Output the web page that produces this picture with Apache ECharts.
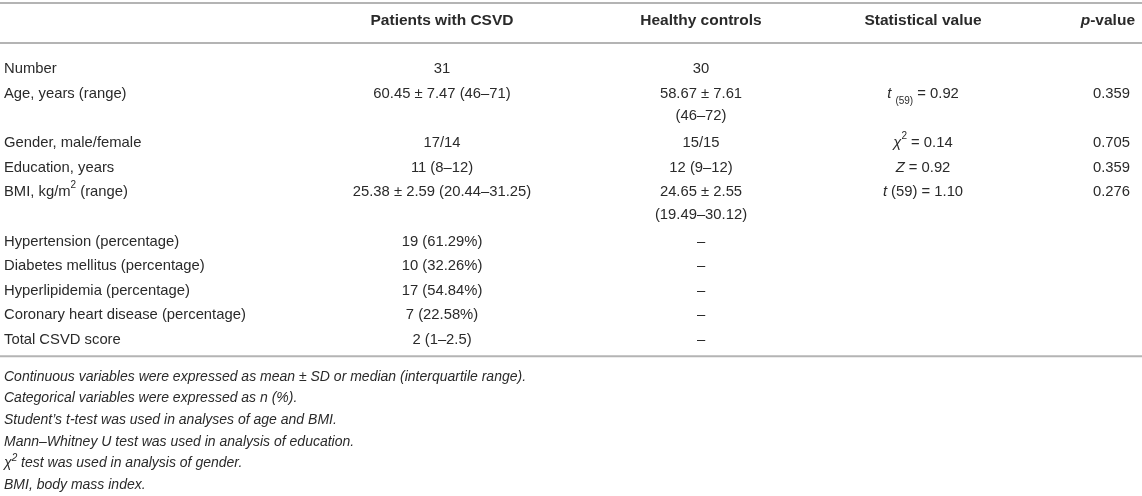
<!DOCTYPE html>
<html lang="en">
<head>
    <meta charset="utf-8">
    <title>CSVD demographics table</title>
    <script src="https://cdn.jsdelivr.net/npm/echarts@6/dist/echarts.min.js"></script>
    <style>
        html, body { margin: 0; padding: 0; background: #fff; }
        #tableChart { width: 1142px; height: 496px; }
    </style>
</head>
<body>
    <div id="tableChart"></div>
    <script>
        // table content
        var headers = ['', 'Patients with CSVD', 'Healthy controls', 'Statistical value', '{bi|p}-value'];
        var rowLabels = [
            'Number', 'Age, years (range)', 'Gender, male/female', 'Education, years',
            'BMI, kg/m{sup|2} (range)', 'Hypertension (percentage)', 'Diabetes mellitus (percentage)',
            'Hyperlipidemia (percentage)', 'Coronary heart disease (percentage)', 'Total CSVD score'
        ];
        var csvdValues = [
            '31', '60.45 ± 7.47 (46–71)', '17/14', '11 (8–12)', '25.38 ± 2.59 (20.44–31.25)',
            '19 (61.29%)', '10 (32.26%)', '17 (54.84%)', '7 (22.58%)', '2 (1–2.5)'
        ];
        var controlValues = [
            '30', '58.67 ± 7.61\n(46–72)', '15/15', '12 (9–12)', '24.65 ± 2.55\n(19.49–30.12)',
            '–', '–', '–', '–', '–'
        ];
        var statValues = [
            '', '{i|t} {sub|(59)} = 0.92', '{i|χ}{sup|2} = 0.14', '{i|Z} = 0.92', '{i|t} (59) = 1.10',
            '', '', '', '', ''
        ];
        var pValues = ['', '0.359', '0.705', '0.359', '0.276', '', '', '', '', ''];
        var footnotes = [
            'Continuous variables were expressed as mean ± SD or median (interquartile range).',
            'Categorical variables were expressed as n (%).',
            'Student’s t-test was used in analyses of age and BMI.',
            'Mann–Whitney U test was used in analysis of education.',
            'χ{fsup|2} test was used in analysis of gender.',
            'BMI, body mass index.'
        ];

        //-- layout
        var W = 1142;
        var FONT = '"Liberation Sans", Arial, Helvetica, sans-serif';
        var TEXT = '#2a2a2a';
        var RULE = '#b4b4b4';
        var BODY = 14.8;
        var colX = [4, 442, 701, 923, 1130];
        var colAlign = ['left', 'center', 'center', 'center', 'right'];
        var headerY = 21;
        var firstRowY = 57;
        var rowPitch = 24.6;
        var innerLine = 22.5;
        var footY = 367;
        var footPitch = 21.6;

        var rich = {
            i: { fontStyle: 'italic', fontSize: BODY, fontFamily: FONT, fill: TEXT },
            bi: { fontStyle: 'italic', fontWeight: 'bold', fontSize: 15.5, fontFamily: FONT, fill: TEXT },
            sup: { fontSize: 10, fontFamily: FONT, fill: TEXT, verticalAlign: 'top', lineHeight: 21 },
            sub: { fontSize: 10, fontFamily: FONT, fill: TEXT, verticalAlign: 'bottom', lineHeight: 19 },
            fsup: { fontSize: 10, fontStyle: 'italic', fontFamily: FONT, fill: TEXT, verticalAlign: 'top', lineHeight: 20 }
        };

        function cell(txt, x, y, align, opts) {
            opts = opts || {};
            return {
                type: 'text',
                silent: true,
                style: {
                    text: txt,
                    x: x,
                    y: y,
                    align: align,
                    verticalAlign: opts.va || 'middle',
                    fontSize: opts.size || BODY,
                    fontFamily: FONT,
                    fontWeight: opts.weight || 'normal',
                    fontStyle: opts.style || 'normal',
                    lineHeight: opts.lh || rowPitch,
                    fill: TEXT,
                    rich: rich
                }
            };
        }
        function rule(y) {
            return {
                type: 'line', silent: true,
                shape: { x1: 0, y1: y, x2: W, y2: y },
                style: { stroke: RULE, lineWidth: 2 }
            };
        }

        var els = [rule(3), rule(43)];
        headers.forEach(function (h, c) {
            if (!h) return;
            var hx = c === 4 ? colX[c] + 5 : colX[c];
            els.push(cell(h, hx, headerY, colAlign[c], { weight: 'bold', size: 15.5 }));
        });

        var columns = [rowLabels, csvdValues, controlValues, statValues, pValues];
        var y = firstRowY;
        rowLabels.forEach(function (lab, r) {
            var lines = 1;
            columns.forEach(function (col, c) {
                var t = col[r];
                if (!t) return;
                var parts = t.split('\n');
                lines = Math.max(lines, parts.length);
                // first line sits on the row, wrapped lines follow a little tighter
                parts.forEach(function (p, k) {
                    els.push(cell(p, colX[c], y + k * innerLine, colAlign[c], { va: 'top' }));
                });
            });
            y += lines * rowPitch;
        });
        els.push(rule(y + 4));

        footnotes.forEach(function (f, k) {
            els.push(cell(f, 4, footY + k * footPitch + 10, 'left', { size: 14, style: 'italic', lh: 20 }));
        });

        var chart = echarts.init(document.getElementById('tableChart'), null, { renderer: 'canvas' });
        chart.setOption({
            backgroundColor: '#fff',
            animation: false,
            graphic: { elements: els }
        });
    </script>
</body>
</html>
